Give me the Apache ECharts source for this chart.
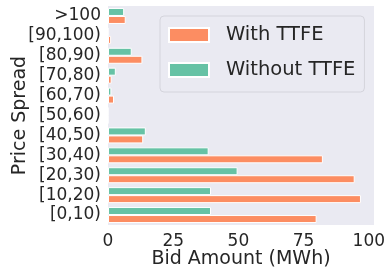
<!DOCTYPE html>
<html><head><meta charset="utf-8">
<script src="https://cdn.jsdelivr.net/npm/echarts@6/dist/echarts.min.js"></script>
<style>html,body{margin:0;padding:0;background:#fff}#c{width:391px;height:276px}</style>
</head><body><div id="c"></div>
<script>
const categories = ['[0,10)','[10,20)','[20,30)','[30,40)','[40,50)','[50,60)','[60,70)','[70,80)','[80,90)','[90,100)','>100'];
const withTTFE = [80, 97, 94.6, 82.4, 13.5, 0, 2.3, 1.4, 13.2, 1.2, 6.8];
const withoutTTFE = [39.5, 39.5, 49.7, 38.6, 14.5, 0, 1.3, 3, 9.1, 0, 6.2];
const xTicks = [0, 25, 50, 75, 100];

const font = 'DejaVu Sans';
const txt = '#262626';
const chart = echarts.init(document.getElementById('c'), null, {renderer: 'canvas'});
chart.setOption({
  animation: false,
  backgroundColor: '#ffffff',
  grid: {left: 108, right: 17, top: 6, bottom: 51, show: true, backgroundColor: '#EAEAF2', borderWidth: 0,
         containLabel: false, outerBoundsMode: 'none'},
  legend: {
    orient: 'vertical', left: 160, top: 16,
    padding: [9, 9, 12, 8], itemGap: 15, itemWidth: 40, itemHeight: 14,
    backgroundColor: '#EAEAF2', borderColor: '#D4D4DC', borderWidth: 1, borderRadius: 4,
    icon: 'rect',
    textStyle: {fontFamily: font, fontSize: 19.5, color: txt, padding: [0, 0, 0, 12]},
    data: ['With TTFE', 'Without TTFE']
  },
  xAxis: {
    type: 'value', min: 0, max: 102, interval: 25,
    name: 'Bid Amount (MWh)', nameLocation: 'middle', nameGap: 25, nameMoveOverlap: false,
    nameTextStyle: {fontFamily: font, fontSize: 19, color: txt},
    axisLine: {show: false}, axisTick: {show: false}, splitLine: {show: false},
    axisLabel: {fontFamily: font, fontSize: 17, color: txt, margin: 8,
      formatter: v => xTicks.includes(v) ? String(v) : ''}
  },
  yAxis: {
    type: 'category', data: categories,
    name: 'Price Spread', nameLocation: 'middle', nameGap: 78, nameMoveOverlap: false,
    nameTextStyle: {fontFamily: font, fontSize: 19, color: txt},
    axisLine: {show: false}, axisTick: {show: false}, splitLine: {show: false},
    axisLabel: {fontFamily: font, fontSize: 17, color: txt, margin: 7, interval: 0}
  },
  series: [
    {name: 'Without TTFE', type: 'bar', data: withoutTTFE, barWidth: 8, barGap: '0%',
     itemStyle: {color: '#66C2A5', borderColor: '#ffffff', borderWidth: 1}},
    {name: 'With TTFE', type: 'bar', data: withTTFE, barWidth: 8, barGap: '0%',
     itemStyle: {color: '#FC8D62', borderColor: '#ffffff', borderWidth: 1}}
  ]
});
</script></body></html>
